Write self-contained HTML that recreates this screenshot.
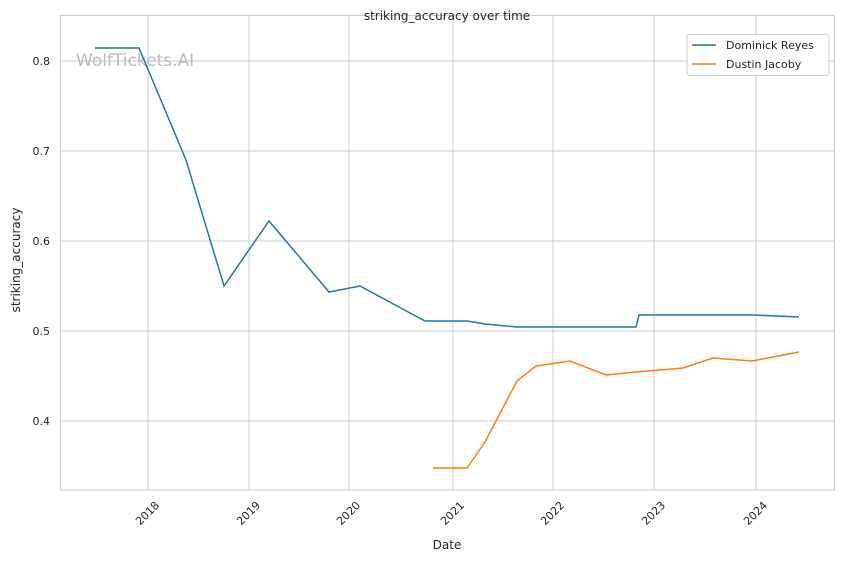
<!DOCTYPE html>
<html><head><meta charset="utf-8"><style>body{margin:0;background:#fff}svg{display:block}text{font-family:"DejaVu Sans","Liberation Sans",sans-serif;fill:#262626}</style></head>
<body>
<svg width="844" height="561" xmlns="http://www.w3.org/2000/svg">
<rect width="844" height="561" fill="#fff"/>
<g stroke="#cccccc" stroke-width="1">
<line x1="148" y1="15" x2="148" y2="490"/><line x1="249" y1="15" x2="249" y2="490"/><line x1="349" y1="15" x2="349" y2="490"/><line x1="453" y1="15" x2="453" y2="490"/><line x1="553" y1="15" x2="553" y2="490"/><line x1="654" y1="15" x2="654" y2="490"/><line x1="756" y1="15" x2="756" y2="490"/>
<line x1="60" y1="61" x2="835" y2="61"/><line x1="60" y1="151" x2="835" y2="151"/><line x1="60" y1="241" x2="835" y2="241"/><line x1="60" y1="331" x2="835" y2="331"/><line x1="60" y1="421" x2="835" y2="421"/>
</g>
<rect x="60.5" y="15.5" width="774" height="474.5" fill="none" stroke="#cccccc"/>
<text x="76" y="66" font-size="17" style="fill:#bbbbbb">WolfTickets.AI</text>
<polyline fill="none" stroke="#1f77b4" stroke-width="1.5" points="95,48 139,48 186,160 224,286 269,221 329,292 360,286 425,321 467,321 485,324 517,327 636,327 639,315 755,315 799,317"/>
<polyline fill="none" stroke="#ff7f0e" stroke-width="1.5" points="433,468 467,468 485,442 517,381 536,366 570,361 606,375 636,372 683,368 713,358 752,361 799,352"/>
<g font-size="11" text-anchor="end">
<text x="50" y="65">0.8</text><text x="50" y="155">0.7</text><text x="50" y="245">0.6</text><text x="50" y="335">0.5</text><text x="50" y="425">0.4</text>
</g>
<g font-size="11" text-anchor="end">
<text transform="translate(160,506) rotate(-45)">2018</text>
<text transform="translate(261,506) rotate(-45)">2019</text>
<text transform="translate(361,506) rotate(-45)">2020</text>
<text transform="translate(465,506) rotate(-45)">2021</text>
<text transform="translate(565,506) rotate(-45)">2022</text>
<text transform="translate(666,506) rotate(-45)">2023</text>
<text transform="translate(768,506) rotate(-45)">2024</text>
</g>
<text x="447" y="549" font-size="12" text-anchor="middle">Date</text>
<text transform="translate(20,260) rotate(-90)" font-size="12" text-anchor="middle">striking_accuracy</text>
<text x="447" y="20" font-size="12" text-anchor="middle">striking_accuracy over time</text>
<rect x="687" y="34.5" width="142" height="41" rx="3" fill="#fff" fill-opacity="0.85" stroke="#cccccc"/>
<line x1="692" y1="45" x2="716" y2="45" stroke="#1f77b4" stroke-width="1.5"/>
<line x1="692" y1="64" x2="716" y2="64" stroke="#ff7f0e" stroke-width="1.5"/>
<text x="726" y="49" font-size="11">Dominick Reyes</text>
<text x="726" y="68" font-size="11">Dustin Jacoby</text>
</svg>
</body></html>
